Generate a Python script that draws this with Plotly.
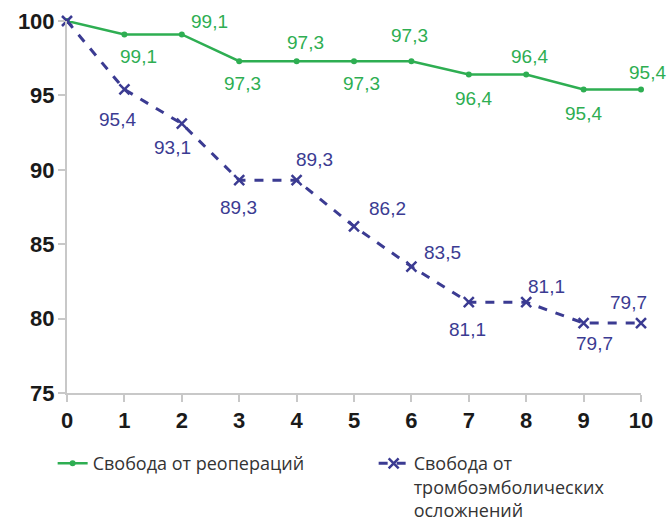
import plotly.graph_objects as go

years = [0, 1, 2, 3, 4, 5, 6, 7, 8, 9, 10]
reop = [100, 99.1, 99.1, 97.3, 97.3, 97.3, 97.3, 96.4, 96.4, 95.4, 95.4]
thromb = [100, 95.4, 93.1, 89.3, 89.3, 86.2, 83.5, 81.1, 81.1, 79.7, 79.7]
y_ticks = [75, 80, 85, 90, 95, 100]
name_reop = "Свобода от реопераций"
name_thromb = "Свобода от<br>тромбоэмболических<br>осложнений"

# label offsets in pixels (dx, dy) relative to the point (None = no label)
reop_off = [None, (14, 22), (28, -13), (3, 22), (9, -19), (7, 22), (-2, -26),
            (5, 24), (3, -18), (0, 24), (6, -17)]
thromb_off = [None, (-7, 30), (-9, 24), (-1, 27), (18, -21), (33, -18), (31, -14),
              (-1, 27), (20, -16), (11, 20), (-13, -21)]

GREEN = "#2eae52"
BLUE = "#3b3b92"

fig = go.Figure()
fig.add_trace(go.Scatter(
    x=years, y=reop, name=name_reop, mode="lines+markers",
    line=dict(color=GREEN, width=2.5),
    marker=dict(symbol="circle", size=6, color=GREEN),
    cliponaxis=False,
))
fig.add_trace(go.Scatter(
    x=years, y=thromb, name=name_thromb, mode="lines+markers",
    line=dict(color=BLUE, width=3, dash="dash"),
    marker=dict(symbol="x-thin", size=10, color=BLUE, line=dict(color=BLUE, width=2.5)),
    cliponaxis=False,
))

def fmt(v):
    return f"{v:.1f}".replace(".", ",")

for xs, ys, offs, col in [(years, reop, reop_off, GREEN), (years, thromb, thromb_off, BLUE)]:
    for x, y, o in zip(xs, ys, offs):
        if o is None:
            continue
        fig.add_annotation(x=x, y=y, text=fmt(y), showarrow=False,
                           xshift=o[0], yshift=-o[1],
                           font=dict(family="Liberation Sans", size=19, color=col))

fig.update_layout(
    width=667, height=521,
    margin=dict(l=67, r=26, t=21, b=128, autoexpand=False),
    plot_bgcolor="white", paper_bgcolor="white",
    showlegend=True,
    legend=dict(orientation="h", x=-0.025, xanchor="left", y=-0.14, yanchor="top",
                font=dict(family="Open Sans", size=18, color="#333333"),
                valign="top", entrywidth=276, itemwidth=30, tracegroupgap=0),
)
tickfont = dict(family="Liberation Sans", size=22, color="#1a1a1a", weight="bold")
fig.update_xaxes(range=[0, 10], tickvals=years, ticktext=[str(v) for v in years],
                 showgrid=False, zeroline=False, showline=True, linecolor="#c8c8c8", linewidth=2,
                 ticks="outside", ticklen=7, tickwidth=2, tickcolor="#c8c8c8",
                 tickfont=tickfont)
fig.update_yaxes(range=[75, 100], tickvals=y_ticks,
                 showgrid=False, zeroline=False, showline=True, linecolor="#c8c8c8", linewidth=2,
                 ticks="outside", ticklen=7, tickwidth=2, tickcolor="#c8c8c8",
                 tickfont=tickfont, ticklabelstandoff=-1)

fig.write_html("out.html", config={"displayModeBar": False},
               post_script="document.body.style.margin='0';document.body.style.padding='0';")
